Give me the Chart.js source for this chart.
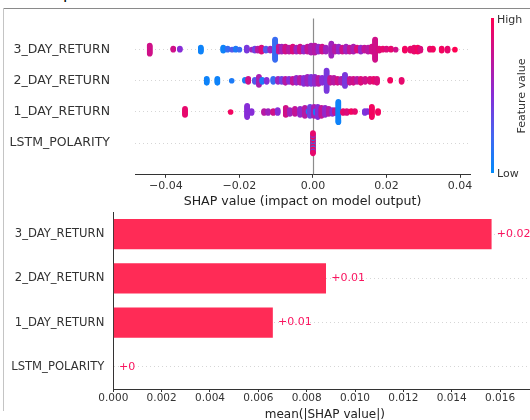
<!DOCTYPE html>
<html><head><meta charset="utf-8">
<script src="https://cdn.jsdelivr.net/npm/chart.js@4"></script>
<style>
html,body{margin:0;padding:0;background:#fff;overflow:hidden;width:530px;height:420px}
#wrap{position:relative;width:530px;height:420px;overflow:hidden;background:#fff}
canvas{position:absolute;left:0;top:0}
.frameTop{position:absolute;left:3px;top:8px;width:527px;height:1px;background:#8a8a8a}
.frameLeft{position:absolute;left:3px;top:8px;width:1px;height:403px;background:#c4c4c4}
.frag{position:absolute;left:63px;top:-14px;font:16px 'DejaVu Sans';line-height:16px;color:#000}
</style></head><body>
<div id="wrap">
<div class="frag">p</div>
<div class="frameTop"></div><div class="frameLeft"></div>
<canvas id="top" width="530" height="420"></canvas>
<canvas id="bot" width="545" height="420"></canvas>
</div>
<script>
// ---------- data ----------
const FEATURES = ['LSTM_POLARITY','1_DAY_RETURN','2_DAY_RETURN','3_DAY_RETURN']; // rows bottom -> top
const SWARM_TICKS = [-0.04,-0.02,0,0.02,0.04];
const SWARM_X_MIN = -0.0484, SWARM_X_MAX = 0.0427;

// beeswarm clusters: SHAP value, number of samples, feature value (0 = low, 1 = high)
const shap3 = [-0.0444,-0.0380,-0.0362,-0.0305,-0.0244,-0.0232,-0.0220,-0.0210,-0.0200,-0.0180,-0.0166,-0.0158,-0.0150,-0.0140,-0.0128,-0.0116,-0.0103,-0.0093,-0.0085,-0.0075,-0.0065,-0.0055,-0.0045,-0.0035,-0.0025,-0.0015,-0.0005,0.0005,0.0015,0.0025,0.0035,0.0050,0.0060,0.0070,0.0080,0.0090,0.0100,0.0110,0.0120,0.0130,0.0140,0.0150,0.0160,0.0169,0.0180,0.0190,0.0200,0.0212,0.0225,0.0250,0.0265,0.0275,0.0285,0.0292,0.0318,0.0326,0.0350,0.0366,0.0386];
const count3 = [9,2,2,5,4,2,1,2,1,4,1,3,3,5,3,3,21,6,6,6,5,6,5,6,5,6,8,8,6,6,5,13,6,6,5,6,5,6,4,5,4,5,6,21,3,2,2,2,1,3,3,5,5,3,2,2,3,3,1];
const feat3 = [0.8,0.8,0.5,0.05,0.05,0.2,0.3,0.1,0.2,0.45,0.6,0.4,0.7,0.85,0.3,0.6,0.2,0.75,0.6,0.8,0.7,0.85,0.6,0.8,0.55,0.75,0.65,0.7,0.55,0.8,0.6,0.6,0.7,0.55,0.8,0.6,0.75,0.65,0.85,0.55,0.75,0.7,0.8,0.8,0.85,0.9,0.85,0.9,0.8,0.95,0.9,0.9,0.95,0.85,0.9,0.95,0.95,0.9,1.0];

const shap2 = [-0.0289,-0.0260,-0.0221,-0.0185,-0.0176,-0.0158,-0.0147,-0.0138,-0.0126,-0.0108,-0.0095,-0.0085,-0.0075,-0.0065,-0.0055,-0.0045,-0.0035,-0.0025,-0.0015,-0.0005,0.0005,0.0015,0.0025,0.0037,0.0047,0.0057,0.0067,0.0077,0.0087,0.0100,0.0110,0.0120,0.0130,0.0142,0.0155,0.0165,0.0174,0.0210,0.0241];
const count2 = [5,5,1,2,4,3,9,3,3,4,4,4,5,4,5,6,6,7,8,8,8,7,6,21,6,6,5,5,12,5,5,4,5,4,4,4,5,2,3];
const feat2 = [0.05,0.05,0.1,0.1,0.8,0.3,0.65,0.1,0.5,0.2,0.6,0.4,0.7,0.5,0.75,0.55,0.7,0.5,0.6,0.45,0.55,0.7,0.5,0.45,0.75,0.7,0.8,0.65,0.45,0.75,0.8,0.7,0.85,0.8,0.85,0.9,0.85,0.95,0.9];

const shap1 = [-0.0348,-0.0224,-0.0179,-0.0167,-0.0133,-0.0122,-0.0108,-0.0096,-0.0074,-0.0063,-0.0049,-0.0035,-0.0022,-0.0012,-0.0008,0.0003,0.0008,0.0013,0.0023,0.0033,0.0043,0.0053,0.0060,0.0069,0.0082,0.0092,0.0104,0.0114,0.0141,0.0148,0.0160,0.0177];
const count1 = [7,1,12,3,3,3,3,4,8,5,6,7,9,2,10,10,3,11,9,8,6,5,4,21,3,3,2,2,3,2,11,3];
const feat1 = [0.9,0.95,0.5,0.5,0.7,0.6,0.8,0.5,0.8,0.6,0.75,0.55,0.7,0.15,0.4,0.65,0.1,0.5,0.75,0.55,0.7,0.5,0.75,0.05,0.9,0.85,0.95,0.9,0.45,0.5,0.95,0.95];

const shap0 = [0,0,0,0,0,0,0];
const count0 = [3,2,4,2,4,2,4];
const feat0 = [0.95,0.1,0.9,0.05,0.95,0.4,0.9];

const BAR_LABELS = ['3_DAY_RETURN','2_DAY_RETURN','1_DAY_RETURN','LSTM_POLARITY'];
const BAR_VALUES = [0.01565,0.0088,0.0066,0.00002];
const BAR_TICKS = [0,0.002,0.004,0.006,0.008,0.010,0.012,0.014,0.016];
const BAR_X_MAX = 0.0175;

const SWARM_TITLE = 'SHAP value (impact on model output)';
const BAR_TITLE = 'mean(|SHAP value|)';
const CBAR_HIGH = 'High', CBAR_LOW = 'Low', CBAR_TITLE = 'Feature value';

// ---------- helpers ----------
Chart.defaults.font.family = "'DejaVu Sans', sans-serif";
Chart.defaults.color = '#333';

const CMAP = [[0,[0,139,251]],[0.25,[70,100,240]],[0.5,[135,45,215]],[0.75,[195,20,150]],[1,[255,0,82]]];
function cmap(t){
  for(let i=1;i<CMAP.length;i++){
    if(t<=CMAP[i][0]){
      const [t0,c0]=CMAP[i-1],[t1,c1]=CMAP[i];
      const u=(t-t0)/(t1-t0);
      return 'rgb('+c0.map((c,k)=>Math.round(c+(c1[k]-c)*u)).join(',')+')';
    }
  }
  return 'rgb('+CMAP[CMAP.length-1][1].join(',')+')';
}

// SHAP-style stacking: within the same x, alternate layers up/down, scale by row height
function swarm(row, xs, ns, fvs){
  const layerAt = {}, raw = [];
  xs.forEach((x,i)=>{
    const key = x.toFixed(5);
    for(let k=0;k<ns[i];k++){
      const layer = layerAt[key]||0;
      layerAt[key] = layer+1;
      raw.push({x, off: Math.ceil(layer/2)*((layer%2)*2-1), fv: fvs[i]});
    }
  });
  const maxOff = Math.max(...raw.map(p=>p.off+1));
  const s = 0.9*0.4/maxOff;
  return {pts: raw.map(p=>({x:p.x, y: row + p.off*s})), colors: raw.map(p=>cmap(p.fv))};
}
const rows = [
  swarm(0, shap0, count0, feat0),
  swarm(1, shap1, count1, feat1),
  swarm(2, shap2, count2, feat2),
  swarm(3, shap3, count3, feat3)
];

function fmtSwarm(v){ return (v<0?'\u2212':'') + Math.abs(v).toFixed(2); }

const zeroLine = {id:'zeroLine', beforeDatasetsDraw(chart){
  const {ctx, chartArea:a, scales:{x}} = chart;
  const px = Math.round(x.getPixelForValue(0))+0.5;
  ctx.save(); ctx.strokeStyle='#8c8c8c'; ctx.lineWidth=1.2;
  ctx.beginPath(); ctx.moveTo(px,a.top); ctx.lineTo(px,a.bottom); ctx.stroke(); ctx.restore();
}};

const colorbar = {id:'colorbar', afterDraw(chart){
  const ctx = chart.ctx, top=18, bot=173, x=491, w=3;
  ctx.save();
  const g = ctx.createLinearGradient(0,bot,0,top);
  CMAP.forEach(([t,c])=>g.addColorStop(t,'rgb('+c.join(',')+')'));
  ctx.fillStyle=g; ctx.fillRect(x,top,w,bot-top);
  ctx.fillStyle='#333'; ctx.font="11px 'DejaVu Sans'"; ctx.textBaseline='middle'; ctx.textAlign='left';
  ctx.fillText(CBAR_HIGH, 497, 20);
  ctx.fillText(CBAR_LOW, 497, 174);
  ctx.translate(522, 96); ctx.rotate(-Math.PI/2); ctx.textAlign='center';
  ctx.fillText(CBAR_TITLE, 0, 0);
  ctx.restore();
}};

const barText = {id:'barText', afterDatasetsDraw(chart){
  const {ctx, scales:{x}} = chart; const meta = chart.getDatasetMeta(0);
  const off = (x.max - x.min)/80;
  ctx.save(); ctx.fillStyle='rgb(250,20,95)'; ctx.font="11px 'DejaVu Sans'"; ctx.textBaseline='middle'; ctx.textAlign='left';
  meta.data.forEach((bar,i)=>{
    const v = BAR_VALUES[i];
    ctx.fillText('+'+String(parseFloat(v.toFixed(2))), x.getPixelForValue(v+off), bar.y);
  });
  ctx.restore();
}};

function fitArea(chart, t){
  for(let k=0;k<2;k++){
    const a=chart.chartArea, p=chart.options.layout.padding;
    p.left += t.left-a.left; p.right += a.right-t.right;
    p.top += t.top-a.top; p.bottom += a.bottom-t.bottom;
    chart.update('none');
  }
}

// ---------- top: beeswarm ----------
const topChart = new Chart(document.getElementById('top'), {
  type:'scatter',
  data:{datasets: rows.map(r=>({data:r.pts, pointBackgroundColor:r.colors, pointRadius:2.8, pointHoverRadius:2.8, pointBorderWidth:0, showLine:false}))},
  options:{
    responsive:false, animation:false, events:[],
    layout:{padding:{left:10,right:60,top:17.7,bottom:210}},
    plugins:{legend:{display:false}, tooltip:{enabled:false}},
    scales:{
      x:{type:'linear', min:SWARM_X_MIN, max:SWARM_X_MAX,
        afterBuildTicks:s=>{ s.ticks = SWARM_TICKS.map(v=>({value:v})); },
        ticks:{callback:v=>fmtSwarm(v), font:{size:11, lineHeight:1}, padding:2.5, color:'#333', maxRotation:0, autoSkip:false},
        grid:{drawOnChartArea:false, drawTicks:true, tickLength:3.5, color:'#333'},
        border:{display:true, color:'#333', width:1},
        title:{display:true, text:SWARM_TITLE, font:{size:12.6}, color:'#222', padding:{top:0,bottom:0}}},
      y:{type:'linear', min:-1, max:4,
        afterBuildTicks:s=>{ s.ticks = FEATURES.map((_,i)=>({value:i})); },
        ticks:{callback:v=>FEATURES[v], font:{size:12.5}, padding:0, color:'#333', autoSkip:false},
        grid:{drawTicks:true, tickLength:25, tickColor:'rgba(0,0,0,0)', color:'#cccccc', lineWidth:0.8},
        border:{display:false, dash:[1,3]}}
    }
  },
  plugins:[zeroLine, colorbar]
});
fitArea(topChart, {left:135, right:470, top:18.5, bottom:174.3});

// ---------- bottom: mean |SHAP| bars ----------
const botChart = new Chart(document.getElementById('bot'), {
  type:'bar',
  data:{labels:BAR_LABELS, datasets:[{data:BAR_VALUES, backgroundColor:'rgb(255,43,86)', borderWidth:0, barPercentage:0.68, categoryPercentage:1}]},
  options:{
    indexAxis:'y', responsive:false, animation:false, events:[],
    layout:{padding:{left:5,right:8.7,top:212,bottom:5}},
    plugins:{legend:{display:false}, tooltip:{enabled:false}},
    scales:{
      x:{type:'linear', min:0, max:BAR_X_MAX,
        afterBuildTicks:s=>{ s.ticks = BAR_TICKS.map(v=>({value:v})); },
        ticks:{callback:v=>v.toFixed(3), font:{size:10.5, lineHeight:1}, padding:1.5, color:'#333', maxRotation:0, autoSkip:false},
        grid:{drawOnChartArea:false, drawTicks:true, tickLength:3, color:'#333'},
        border:{display:true, color:'#333', width:1},
        title:{display:true, text:BAR_TITLE, font:{size:12}, color:'#222', padding:{top:2,bottom:0}}},
      y:{type:'category', offset:true,
        ticks:{font:{size:11.6}, padding:9, color:'#333'},
        grid:{offset:false, drawTicks:false, color:'#cccccc', lineWidth:0.8},
        border:{display:true, color:'#333', width:1, dash:[1,3]}}
    }
  },
  plugins:[barText]
});
fitArea(botChart, {left:113.3, right:536.3, top:212, bottom:389});
</script>
</body></html>
